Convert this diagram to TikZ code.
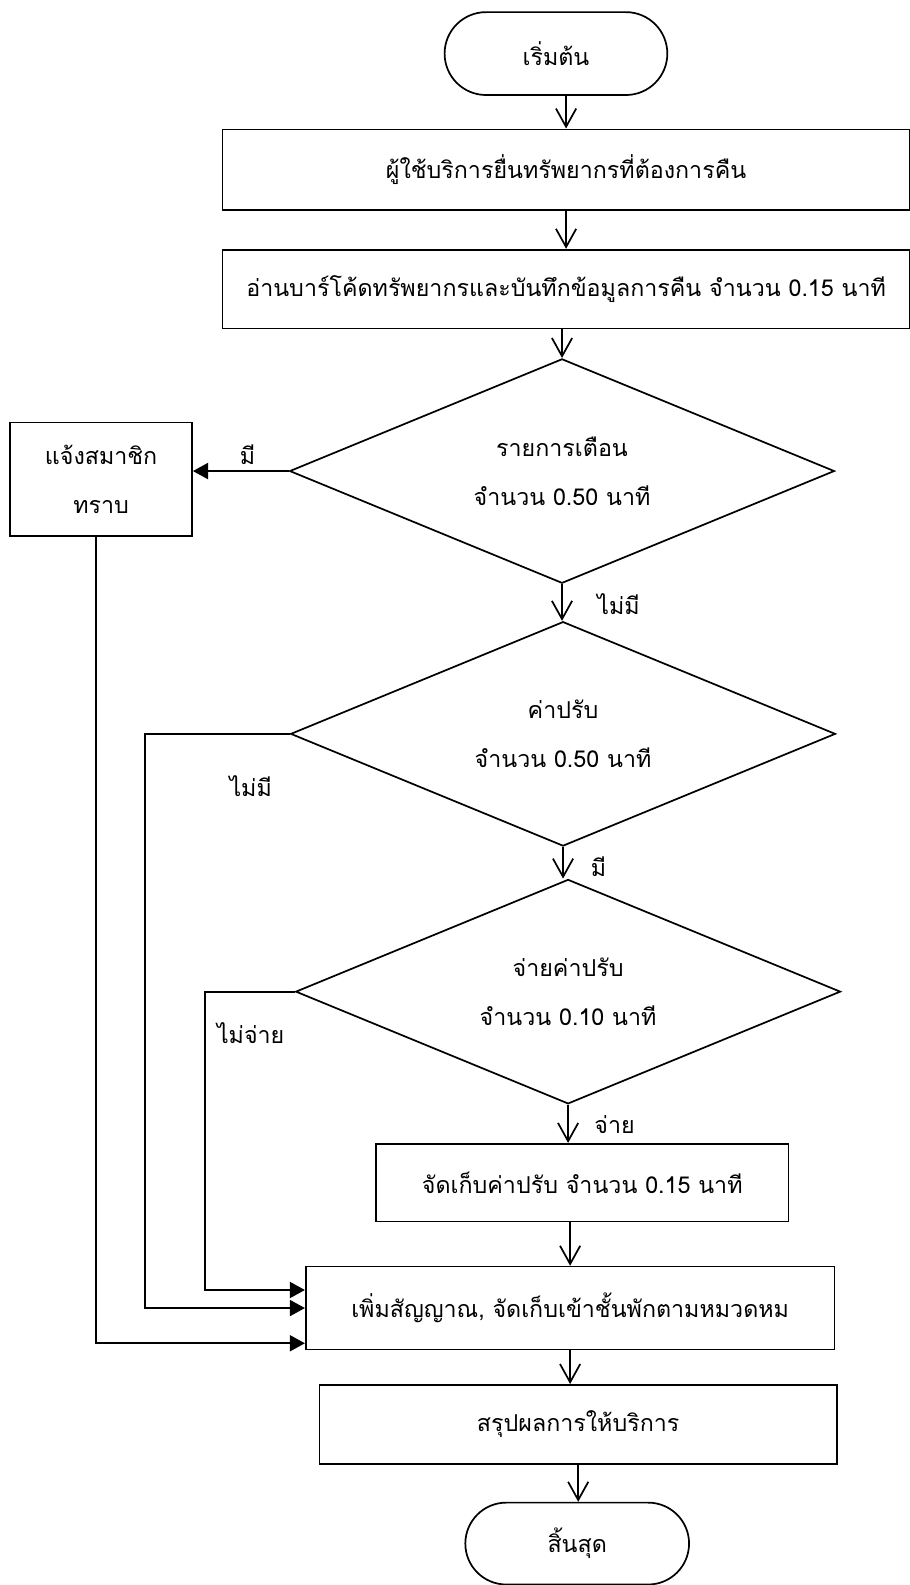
\documentclass[tikz,border=0pt]{standalone}
\usepackage{fontspec}
\usepackage{tikz}
\usetikzlibrary{arrows.meta,shapes}
\newfontfamily\thaifont[Script=Thai]{Loma}

\begin{document}
\begin{tikzpicture}[x=1pt,y=-1pt,line width=1.7pt,
        font=\thaifont\fontsize{23}{48}\selectfont,
        box/.style={draw,rectangle,minimum width=#1,minimum height=80pt,inner sep=0pt,align=center},
        term/.style={draw,rounded rectangle,minimum width=227pt,minimum height=82pt},
        decision/.style={draw,diamond,aspect=2.43,minimum width=539pt,minimum height=222pt,inner sep=0pt,align=center},
        flow/.style={-{Straight Barb[length=18pt,width=20pt]}},
        side/.style={-{Triangle[length=15pt,width=16pt]}}]
        \useasboundingbox (0,0) rectangle (900,1568);
        \node[term] (start) at (550,53) {เริ่มต้น};
        \node[box=680pt] (submit) at (560,168) {ผู้ใช้บริการยื่นทรัพยากรที่ต้องการคืน};
        \node[box=680pt,minimum height=78pt] (scan) at (560,286) {อ่านบาร์โค้ดทรัพยากรและบันทึกข้อมูลการคืน จำนวน 0.15 นาที};
        \node[decision] (warn) at (556,466) {รายการเตือน\\จำนวน 0.50 นาที};
        \node[box=180pt,minimum height=112pt] (notify) at (100,474) {แจ้งสมาชิก\\ทราบ};
        \node[decision] (fine) at (557,726) {ค่าปรับ\\จำนวน 0.50 นาที};
        \node[decision] (pay) at (562,981) {จ่ายค่าปรับ\\จำนวน 0.10 นาที};
        \node[box=408pt,minimum height=77pt] (keep) at (576,1170) {จัดเก็บค่าปรับ จำนวน 0.15 นาที};
        \node[box=523pt,minimum height=82pt] (shelf) at (564,1294) {เพิ่มสัญญาณ, จัดเก็บเข้าชั้นพักตามหมวดหม};
        \node[box=512pt,minimum height=78pt] (report) at (572,1409) {สรุปผลการให้บริการ};
        \node[term,minimum width=228pt,minimum height=81pt] (stop) at (571,1527) {สิ้นสุด};

        % labels on the branches
        \node (yes1) at (245,450) {มี};
        \node (no1) at (612,598) {ไม่มี};
        \node (no2) at (248,778) {ไม่มี};
        \node (yes2) at (592,857) {มี};
        \node (nopay) at (248,1022) {ไม่จ่าย};
        \node (paid) at (608,1112) {จ่าย};

        \draw[flow] (submit.north |- start.south) -- (submit.north);
        \draw[flow] (submit) -- (scan);
        \draw[flow] (warn.north |- scan.south) -- (warn.north);
        \draw[flow] (warn.south) -- (warn.south |- fine.north);
        \draw[flow] (fine.south) -- (fine.south |- pay.north);
        \draw[flow] (pay.south) -- (pay.south |- keep.north);
        \draw[flow] (shelf.north |- keep.south) -- (shelf.north);
        \draw[flow] (shelf.south) -- (shelf.south |- report.north);
        \draw[flow] (report.south) -- (report.south |- stop.north);

        \draw[side] (warn.west) -- (warn.west -| notify.east);
        \draw[side] (pay.west) -- ++(-89,0) |- ([yshift=-24pt]shelf.north west);
        \draw[side] (fine.west) -- ++(-143,0) |- (shelf.west);
        \draw[side] ([xshift=-5pt]notify.south) |- ([yshift=7pt]shelf.south west);
\end{tikzpicture}
\end{document}
